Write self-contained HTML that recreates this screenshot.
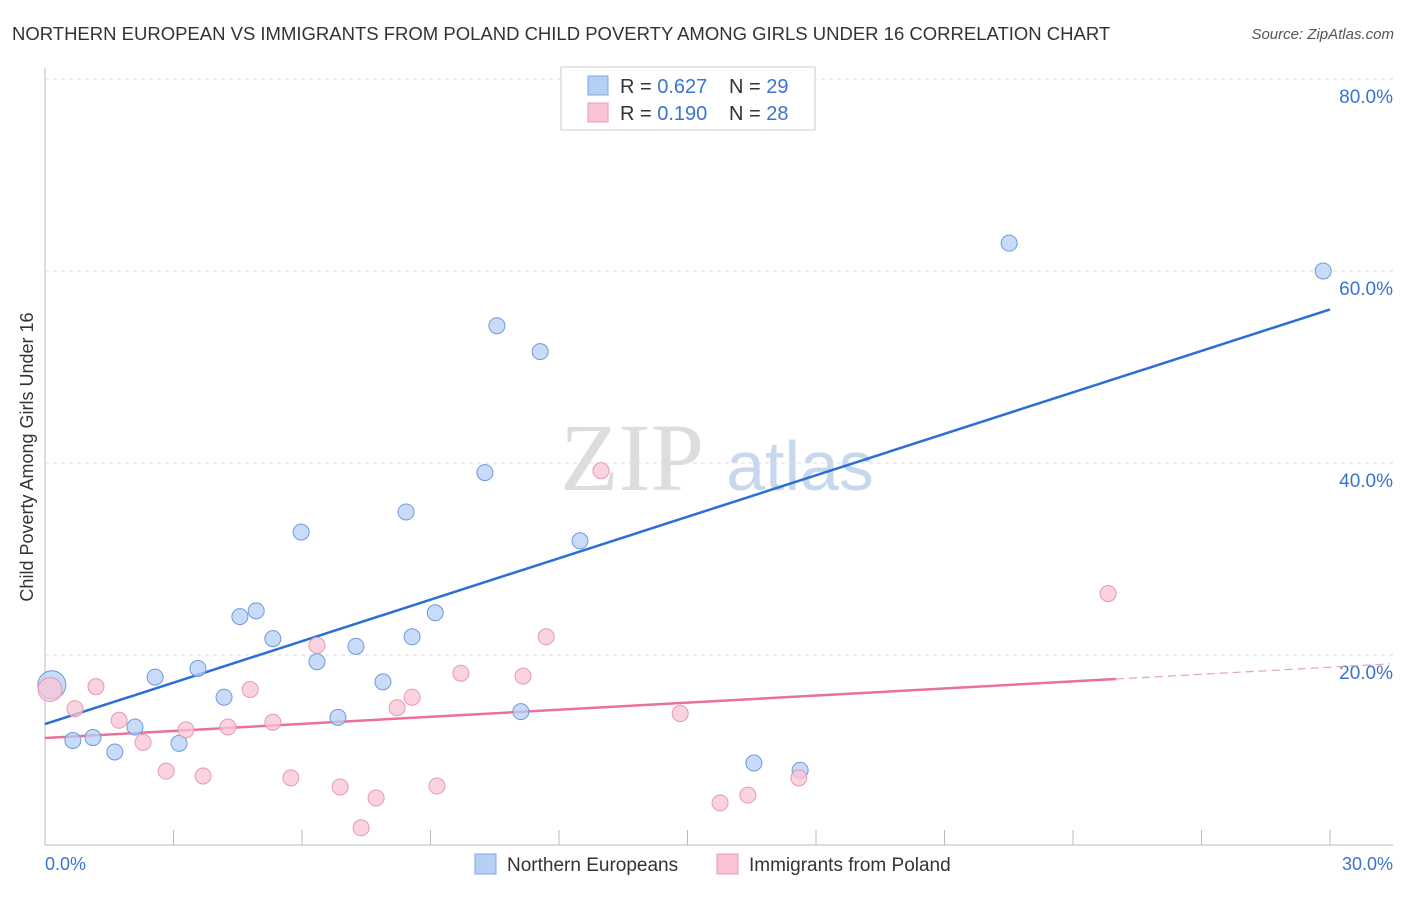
<!DOCTYPE html>
<html><head><meta charset="utf-8"><style>
body{margin:0;background:#fff;font-family:"Liberation Sans",sans-serif;}
</style></head><body>
<svg id="chart" width="1406" height="892" xmlns="http://www.w3.org/2000/svg">
<text x="12" y="40" font-size="18.5" fill="#333">NORTHERN EUROPEAN VS IMMIGRANTS FROM POLAND CHILD POVERTY AMONG GIRLS UNDER 16 CORRELATION CHART</text>
<text x="1394" y="39" font-size="15" fill="#555" font-style="italic" text-anchor="end">Source: ZipAtlas.com</text>
<text x="632" y="490" font-size="96" fill="#ddd" font-family="Liberation Serif,serif" text-anchor="middle">ZIP</text>
<text x="800" y="490" font-size="70" fill="#c7d8ee" text-anchor="middle">atlas</text>
<g id="grid"></g><g id="axes"></g><g id="lines"></g><g id="pts"></g>
<text transform="translate(33,457) rotate(-90)" font-size="18" fill="#333" text-anchor="middle">Child Poverty Among Girls Under 16</text>
<text x="45" y="870" font-size="18" fill="#3a73d1">0.0%</text>
<text x="1393" y="870" font-size="18" fill="#3a73d1" text-anchor="end">30.0%</text>
<g>
<rect x="561" y="67" width="254" height="63" fill="#fff" stroke="#ccc"/>
<rect x="588" y="76" width="20" height="19" fill="#b5cff5" stroke="#7ea7e0"/>
<rect x="588" y="103" width="20" height="19" fill="#f9c4d4" stroke="#ec9ab5"/>
<text x="620" y="93" font-size="20" fill="#333">R = <tspan fill="#3a73d1">0.627</tspan><tspan x="729">N = </tspan><tspan fill="#3a73d1">29</tspan></text>
<text x="620" y="120" font-size="20" fill="#333">R = <tspan fill="#3a73d1">0.190</tspan><tspan x="729">N = </tspan><tspan fill="#3a73d1">28</tspan></text>
</g>
<g>
<rect x="475" y="854" width="21" height="20" fill="#b5cff5" stroke="#7ea7e0"/>
<text x="507" y="871" font-size="19" fill="#333">Northern Europeans</text>
<rect x="717" y="854" width="21" height="20" fill="#f9c4d4" stroke="#ec9ab5"/>
<text x="749" y="871" font-size="19" fill="#333">Immigrants from Poland</text>
</g>
</svg>
<script>
const yTicks=[20,40,60,80];
const yTickLabels=["20.0%","40.0%","60.0%","80.0%"];
const blueX=[0.16,0.65,1.12,1.63,2.1,2.57,3.13,3.57,4.18,4.55,4.93,5.32,5.98,6.35,6.84,7.26,7.89,8.43,8.57,9.11,10.27,10.55,11.11,11.56,12.49,16.55,17.63,22.51,29.84];
const blueY=[16.9,11.1,11.4,9.9,12.5,17.7,10.8,18.6,15.6,24.0,24.6,21.7,32.8,19.3,13.5,20.9,17.2,34.9,21.9,24.4,39.0,54.3,14.1,51.6,31.9,8.75,8.0,62.9,60.0];
const pinkX=[0.12,0.7,1.19,1.73,2.29,2.83,3.29,3.69,4.27,4.79,5.32,5.74,6.35,6.89,7.38,7.73,8.22,8.57,9.15,9.71,11.16,11.7,12.98,14.83,15.76,16.41,17.6,24.82];
const pinkY=[16.4,14.4,16.7,13.2,10.9,7.9,12.2,7.4,12.5,16.4,13.0,7.2,21.0,6.25,2.0,5.1,14.5,15.6,6.35,18.1,17.8,21.9,39.2,13.9,4.6,5.4,7.2,26.4];
const blueLine=[12.8,56.0];
const pinkLine=[11.35,17.5,25];
const NS="http://www.w3.org/2000/svg";
const sx=v=>45+v*1285/30, sy=v=>847-v*9.6;
function mk(t,a,p){const e=document.createElementNS(NS,t);for(const k in a)e.setAttribute(k,a[k]);document.getElementById(p).appendChild(e);return e;}
yTicks.forEach((t,i)=>{
 const l=mk('line',{x1:45,x2:1393,y1:sy(t),y2:sy(t),stroke:'#ddd','stroke-dasharray':'4,4'},'grid');
 
 
 const tx=mk('text',{x:1393,y:sy(t)+24,'font-size':19,fill:'#3a73d1','text-anchor':'end'},'grid');
 tx.textContent=yTickLabels[i];
 
 
});
let ax=mk('line',{x1:45,x2:45,y1:68,y2:845,stroke:'#bbb'},'axes');


ax=mk('line',{x1:45,x2:1393,y1:845,y2:845,stroke:'#bbb'},'axes');


for(let i=0;i<=10;i++){const tk=mk('line',{x1:sx(i*3),x2:sx(i*3),y1:830,y2:845,stroke:'#bbb'},'axes');
 
 }
let ln=mk('line',{x1:sx(0),y1:sy(blueLine[0]),x2:sx(30),y2:sy(blueLine[1]),stroke:'#2a6fd6','stroke-width':2.5},'lines');


const ps=(pinkLine[1]-pinkLine[0])/pinkLine[2];
ln=mk('line',{x1:sx(0),y1:sy(pinkLine[0]),x2:sx(pinkLine[2]),y2:sy(pinkLine[1]),stroke:'#e8709a','stroke-width':2.5},'lines');


ln=mk('line',{x1:sx(pinkLine[2]),y1:sy(pinkLine[1]),x2:sx(31.4),y2:sy(pinkLine[0]+ps*31.4),stroke:'#e8a0ba','stroke-width':1.2,'stroke-dasharray':'8,5'},'lines');


blueX.forEach((x,i)=>{const c=mk('circle',{cx:sx(x),cy:sy(blueY[i]),r:i==0?14:8,fill:'#b5cff5','fill-opacity':0.75,stroke:'#6e9ad8','stroke-width':1},'pts');
 
 });
pinkX.forEach((x,i)=>{const c=mk('circle',{cx:sx(x),cy:sy(pinkY[i]),r:i==0?12:8,fill:'#f9c4d4','fill-opacity':0.75,stroke:'#e59ab3','stroke-width':1},'pts');
 
 });
</script>
</body></html>
